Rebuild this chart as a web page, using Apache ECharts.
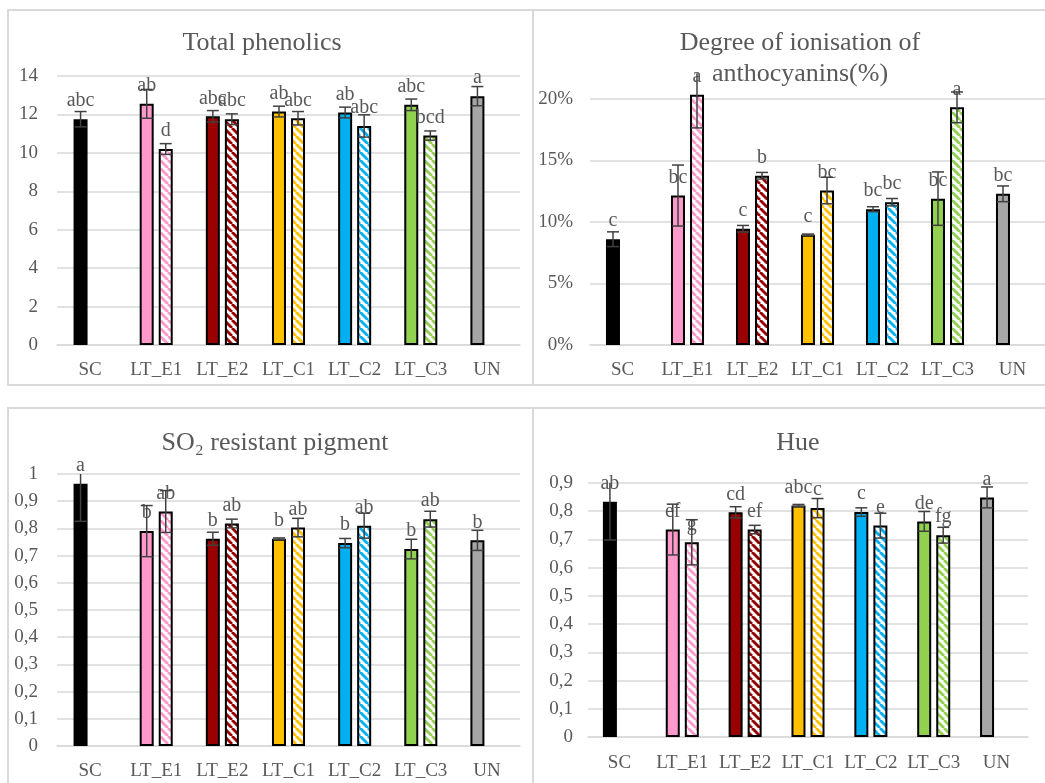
<!DOCTYPE html>
<html>
<head>
<meta charset="utf-8">
<style>
  html, body { margin: 0; padding: 0; background: #fff; }
  #chart { width: 1045px; height: 783px; }
</style>
<script src="https://cdn.jsdelivr.net/npm/echarts@6/dist/echarts.min.js"></script>
</head>
<body>
<div id="chart"></div>
<script>
  var categories = ["SC", "LT_E1", "LT_E2", "LT_C1", "LT_C2", "LT_C3", "UN"];
  var solidColors = ["#000000", "#ff99cc", "#990000", "#ffc000", "#00b0f0", "#92d050", "#a6a6a6"];

  // Total phenolics
  var phenSolid = [11.75, 12.55, 11.9, 12.15, 12.1, 12.5, 12.95];
  var phenSolidErr = [0.4, 0.75, 0.3, 0.28, 0.28, 0.3, 0.5];
  var phenHatch = [null, 10.2, 11.75, 11.8, 11.4, 10.9, null];
  var phenHatchErr = [null, 0.28, 0.28, 0.35, 0.58, 0.24, null];
  var phenSolidLetters = ["abc", "ab", "abc", "ab", "ab", "abc", "a"];
  var phenHatchLetters = ["", "d", "abc", "abc", "abc", "bcd", ""];

  // Degree of ionisation of anthocyanins
  var ionSolid = [0.086, 0.1215, 0.0945, 0.0897, 0.1104, 0.119, 0.1229];
  var ionSolidErr = [0.006, 0.0248, 0.0027, 0.0005, 0.002, 0.0217, 0.0064];
  var ionHatch = [null, 0.2035, 0.1376, 0.1256, 0.1161, 0.1932, null];
  var ionHatchErr = [null, 0.027, 0.0027, 0.0108, 0.003, 0.0125, null];
  var ionSolidLetters = ["c", "bc", "c", "c", "bc", "bc", "bc"];
  var ionHatchLetters = ["", "a", "b", "bc", "bc", "a", ""];

  // SO2 resistant pigment
  var so2Solid = [0.964, 0.79, 0.762, 0.762, 0.746, 0.724, 0.756];
  var so2SolidErr = [0.138, 0.094, 0.024, 0.003, 0.017, 0.036, 0.037];
  var so2Hatch = [null, 0.862, 0.818, 0.803, 0.81, 0.834, null];
  var so2HatchErr = [null, 0.077, 0.016, 0.034, 0.046, 0.029, null];
  var so2SolidLetters = ["a", "b", "b", "b", "b", "b", "b"];
  var so2HatchLetters = ["", "ab", "ab", "ab", "ab", "ab", ""];

  // Hue
  var hueSolid = [0.834, 0.735, 0.796, 0.82, 0.797, 0.764, 0.849];
  var hueSolidErr = [0.136, 0.09, 0.02, 0.004, 0.015, 0.035, 0.037];
  var hueHatch = [null, 0.69, 0.735, 0.811, 0.749, 0.715, null];
  var hueHatchErr = [null, 0.08, 0.015, 0.034, 0.044, 0.028, null];
  var hueSolidLetters = ["ab", "ef", "cd", "abc", "c", "de", "a"];
  var hueHatchLetters = ["", "g", "ef", "c", "e", "fg", ""];

  // top of each plot area (error bars are cut there, like in the original)
  var plotTops = [14, 0.221, 1, 0.9];

  var FONT = "'Liberation Serif', 'DejaVu Serif', serif";
  var TEXT = "#595959";
  var GRIDLINE = "#d9d9d9";
  var BAR_W = 14;
  var BAR_GAP = 5;
  var OFFSET = (BAR_W + BAR_GAP) / 2;

  function decimalComma(v) {
    if (v === 0) return "0";
    if (Math.abs(v - 1) < 1e-9) return "1";
    return v.toFixed(1).replace(".", ",");
  }

  // white tile with "\" stripes in the series colour
  function stripes(color) {
    var size = 8;
    var c = document.createElement("canvas");
    c.width = size;
    c.height = size;
    var ctx = c.getContext("2d");
    ctx.fillStyle = "#ffffff";
    ctx.fillRect(0, 0, size, size);
    ctx.strokeStyle = color;
    ctx.lineWidth = 2.8;
    [-size, 0, size].forEach(function (x0) {
      ctx.beginPath();
      ctx.moveTo(x0, 0);
      ctx.lineTo(x0 + size, size);
      ctx.stroke();
    });
    return { image: c, repeat: "repeat" };
  }

  function errRenderer(plotTop) {
    return function (params, api) {
      var side = api.value(3);
      var upper = api.value(1) + api.value(2);
      var clipped = upper > plotTop;
      var hi = api.coord([api.value(0), Math.min(upper, plotTop)]);
      var lo = api.coord([api.value(0), api.value(1) - api.value(2)]);
      var x = hi[0] + side * OFFSET;
      var cap = 6;
      var style = { stroke: "#404040", lineWidth: 1.5 };
      var parts = [
        { type: "line", shape: { x1: x, y1: hi[1], x2: x, y2: lo[1] }, style: style },
        { type: "line", shape: { x1: x - cap, y1: lo[1], x2: x + cap, y2: lo[1] }, style: style }
      ];
      if (!clipped) {
        parts.push({ type: "line", shape: { x1: x - cap, y1: hi[1], x2: x + cap, y2: hi[1] }, style: style });
      }
      return { type: "group", children: parts };
    };
  }

  function barSeries(gi, values, letters, hatched) {
    return {
      type: "bar",
      xAxisIndex: gi,
      yAxisIndex: gi,
      barWidth: BAR_W,
      barGap: Math.round((BAR_GAP / BAR_W) * 100) + "%",
      clip: false,
      z: 2,
      data: values.map(function (v, k) {
        if (v == null) return "-";
        return {
          value: v,
          itemStyle: {
            color: hatched ? stripes(solidColors[k]) : solidColors[k],
            borderColor: "#000000",
            borderWidth: 2
          }
        };
      }),
      label: {
        show: true,
        position: "top",
        distance: 8,
        fontFamily: FONT,
        fontSize: 20,
        color: TEXT,
        formatter: function (p) {
          return letters[p.dataIndex];
        }
      }
    };
  }

  function errSeries(gi, values, errs, side) {
    var data = [];
    values.forEach(function (v, k) {
      if (v != null) data.push([k, v, errs[k], side]);
    });
    return {
      type: "custom",
      xAxisIndex: gi,
      yAxisIndex: gi,
      z: 5,
      silent: true,
      renderItem: errRenderer(plotTops[gi]),
      data: data
    };
  }

  var panels = [
    { solid: phenSolid, solidErr: phenSolidErr, hatch: phenHatch, hatchErr: phenHatchErr, sl: phenSolidLetters, hl: phenHatchLetters },
    { solid: ionSolid, solidErr: ionSolidErr, hatch: ionHatch, hatchErr: ionHatchErr, sl: ionSolidLetters, hl: ionHatchLetters },
    { solid: so2Solid, solidErr: so2SolidErr, hatch: so2Hatch, hatchErr: so2HatchErr, sl: so2SolidLetters, hl: so2HatchLetters },
    { solid: hueSolid, solidErr: hueSolidErr, hatch: hueHatch, hatchErr: hueHatchErr, sl: hueSolidLetters, hl: hueHatchLetters }
  ];

  var grids = [
    { left: 57, top: 76, width: 463, height: 269 },
    { left: 590, top: 99, width: 458, height: 246 },
    { left: 57, top: 474, width: 463, height: 272 },
    { left: 588, top: 483, width: 440, height: 254 }
  ];

  var yScales = [
    { max: 14, interval: 2, fmt: function (v) { return String(v); }, margin: 19 },
    { max: 0.2, interval: 0.05, fmt: function (v) { return Math.round(v * 100) + "%"; }, margin: 17 },
    { max: 1, interval: 0.1, fmt: decimalComma, margin: 19 },
    { max: 0.9, interval: 0.1, fmt: decimalComma, margin: 15 }
  ];
  var xMargins = [16, 16, 16, 17];

  var series = [];
  panels.forEach(function (p, gi) {
    series.push(barSeries(gi, p.solid, p.sl, false));
    series.push(barSeries(gi, p.hatch, p.hl, true));
    series.push(errSeries(gi, p.solid, p.solidErr, -1));
    series.push(errSeries(gi, p.hatch, p.hatchErr, 1));
  });

  var titleStyle = { fontFamily: FONT, fontSize: 26, fontWeight: "normal", color: TEXT, lineHeight: 31 };

  var option = {
    backgroundColor: "#ffffff",
    animation: false,
    textStyle: { fontFamily: FONT },
    title: [
      { text: "Total phenolics", left: 257, top: 23, textAlign: "center", textStyle: titleStyle },
      { text: "Degree of ionisation of\nanthocyanins(%)", left: 795, top: 23, textAlign: "center", textStyle: titleStyle },
      { text: "SO\u2082 resistant pigment", left: 270, top: 423, textAlign: "center", textStyle: titleStyle },
      { text: "Hue", left: 793, top: 423, textAlign: "center", textStyle: titleStyle }
    ],
    graphic: [
      { type: "rect", silent: true, shape: { x: 8, y: 10, width: 525, height: 375 }, style: { fill: "none", stroke: GRIDLINE, lineWidth: 2 } },
      { type: "rect", silent: true, shape: { x: 533, y: 10, width: 520, height: 375 }, style: { fill: "none", stroke: GRIDLINE, lineWidth: 2 } },
      { type: "rect", silent: true, shape: { x: 8, y: 408, width: 525, height: 390 }, style: { fill: "none", stroke: GRIDLINE, lineWidth: 2 } },
      { type: "rect", silent: true, shape: { x: 533, y: 408, width: 520, height: 390 }, style: { fill: "none", stroke: GRIDLINE, lineWidth: 2 } }
    ],
    grid: grids,
    xAxis: grids.map(function (g, gi) {
      return {
        type: "category",
        gridIndex: gi,
        data: categories,
        axisTick: { show: false },
        axisLine: { lineStyle: { color: GRIDLINE, width: 1.5 } },
        axisLabel: { interval: 0, fontFamily: FONT, fontSize: 19, color: TEXT, margin: xMargins[gi] }
      };
    }),
    yAxis: grids.map(function (g, gi) {
      var s = yScales[gi];
      return {
        type: "value",
        gridIndex: gi,
        min: 0,
        max: s.max,
        interval: s.interval,
        axisLine: { show: false },
        axisTick: { show: false },
        splitLine: { lineStyle: { color: GRIDLINE, width: 1.5 } },
        axisLabel: { fontFamily: FONT, fontSize: 19, color: TEXT, margin: s.margin, formatter: s.fmt }
      };
    }),
    series: series
  };

  var chart = echarts.init(document.getElementById("chart"));
  chart.setOption(option);
</script>
</body>
</html>
